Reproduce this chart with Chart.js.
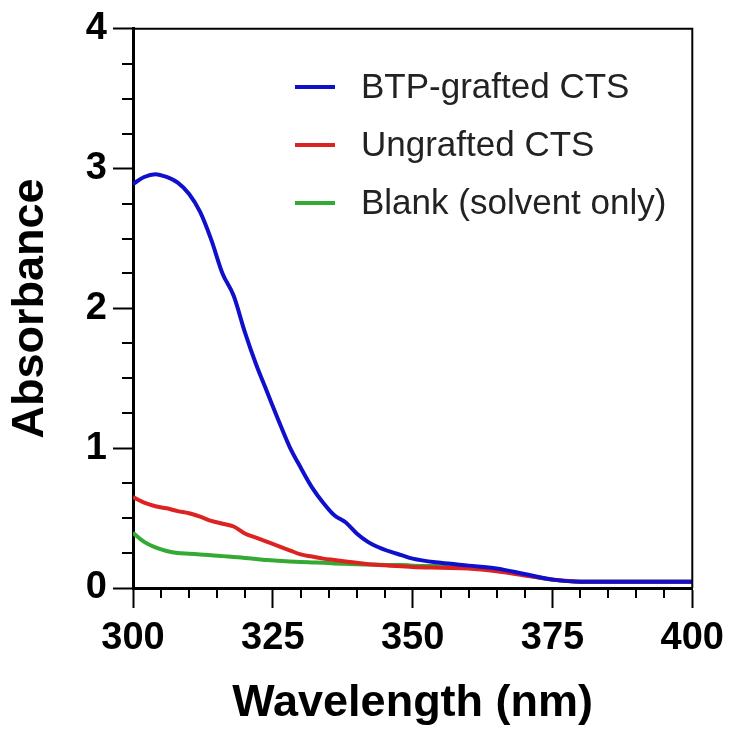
<!DOCTYPE html>
<html>
<head>
<meta charset="utf-8">
<title>Absorbance spectra</title>
<script src="https://cdn.jsdelivr.net/npm/chart.js@4.4.1/dist/chart.umd.min.js"></script>
<style>
  body { margin: 0; background: #fff; }
  canvas { display: block; }
</style>
</head>
<body>
<canvas id="chart" width="732" height="731"></canvas>
<script>
const wavelengths = [300, 302, 304, 306, 308, 310, 312, 314, 316, 318, 320, 322, 324, 326, 328, 330,
  332, 334, 336, 338, 340, 342, 344, 346, 348, 350, 355, 360, 365, 370, 375, 380, 385, 390, 395, 400];

const btpGrafted = [2.89, 2.94, 2.96, 2.94, 2.90, 2.82, 2.69, 2.49, 2.25, 2.09, 1.83, 1.60, 1.40, 1.20, 1.01, 0.86,
  0.72, 0.61, 0.52, 0.47, 0.39, 0.33, 0.29, 0.26, 0.235, 0.21, 0.18, 0.16, 0.14, 0.10, 0.06, 0.045, 0.045, 0.045, 0.045, 0.045];

const ungrafted = [0.65, 0.61, 0.585, 0.57, 0.55, 0.535, 0.51, 0.48, 0.46, 0.44, 0.39, 0.36, 0.33, 0.30, 0.27, 0.24,
  0.225, 0.21, 0.20, 0.19, 0.18, 0.17, 0.165, 0.16, 0.155, 0.15, 0.145, 0.14, 0.12, 0.09, 0.06, 0.045, 0.045, 0.045, 0.045, 0.045];

const blank = [0.395, 0.33, 0.29, 0.265, 0.25, 0.245, 0.24, 0.235, 0.228, 0.222, 0.215, 0.208, 0.20, 0.195, 0.19, 0.186,
  0.183, 0.18, 0.176, 0.173, 0.17, 0.168, 0.166, 0.165, 0.164, 0.16, 0.155, 0.15, 0.13, 0.095, 0.06, 0.045, 0.045, 0.045, 0.045, 0.045];

const seriesLabels = ['BTP-grafted CTS', 'Ungrafted CTS', 'Blank (solvent only)'];
const seriesColors = ['#1010cc', '#dd2222', '#33aa33'];

const FONT = '"Liberation Sans", Arial, sans-serif';

function toPoints(values) {
  return values.map((v, i) => ({ x: wavelengths[i], y: v }));
}

// minor ticks, top/right frame and the in-plot legend
const extras = {
  id: 'extras',
  afterDraw(chart) {
    const ctx = chart.ctx;
    const area = chart.chartArea;
    const xs = chart.scales.x;
    const ys = chart.scales.y;
    ctx.save();
    ctx.strokeStyle = '#000';
    ctx.lineWidth = 2;
    ctx.beginPath();
    for (let w = 305; w < 400; w += 5) {
      if (w % 25 === 0) continue;
      const px = Math.round(xs.getPixelForValue(w));
      ctx.moveTo(px, area.bottom);
      ctx.lineTo(px, area.bottom + 10);
    }
    for (let a = 0.25; a < 4; a += 0.25) {
      if (a % 1 === 0) continue;
      const py = Math.round(ys.getPixelForValue(a));
      ctx.moveTo(area.left - 11, py);
      ctx.lineTo(area.left, py);
    }
    ctx.stroke();

    ctx.beginPath();
    ctx.moveTo(area.left, area.top);
    ctx.lineTo(area.right, area.top);
    ctx.lineTo(area.right, area.bottom);
    ctx.stroke();

    ctx.font = '35px ' + FONT;
    ctx.textBaseline = 'middle';
    ctx.textAlign = 'left';
    chart.data.datasets.forEach((ds, i) => {
      const y = 87 + i * 58;
      ctx.strokeStyle = ds.borderColor;
      ctx.lineWidth = 4;
      ctx.beginPath();
      ctx.moveTo(295, y);
      ctx.lineTo(335, y);
      ctx.stroke();
      ctx.fillStyle = '#222';
      ctx.fillText(ds.label, 361, y + 1);
    });
    ctx.restore();
  }
};

new Chart(document.getElementById('chart'), {
  type: 'line',
  data: {
    datasets: [
      { label: seriesLabels[0], data: toPoints(btpGrafted), borderColor: seriesColors[0] },
      { label: seriesLabels[1], data: toPoints(ungrafted), borderColor: seriesColors[1] },
      { label: seriesLabels[2], data: toPoints(blank), borderColor: seriesColors[2] }
    ]
  },
  options: {
    responsive: false,
    animation: false,
    layout: { padding: { top: 28, right: 39, left: 0, bottom: 0 } },
    elements: {
      point: { radius: 0 },
      line: { borderWidth: 4, cubicInterpolationMode: 'monotone', fill: false }
    },
    plugins: {
      legend: { display: false },
      tooltip: { enabled: false }
    },
    scales: {
      x: {
        type: 'linear',
        min: 300,
        max: 400,
        afterFit(scale) { scale.height = 143; },
        border: { display: true, color: '#000', width: 3 },
        grid: { drawOnChartArea: false, tickLength: 20, tickColor: '#000', tickWidth: 2 },
        ticks: { stepSize: 25, padding: 8, color: '#000', font: { family: FONT, size: 38, weight: 'bold' } },
        title: {
          display: true,
          text: 'Wavelength (nm)',
          color: '#000',
          padding: { top: 0, bottom: 0 },
          font: { family: FONT, size: 45, weight: 'bold', lineHeight: 1.2 }
        }
      },
      y: {
        min: 0,
        max: 4,
        afterFit(scale) { scale.width = 133; },
        border: { display: true, color: '#000', width: 3 },
        grid: { drawOnChartArea: false, tickLength: 20, tickColor: '#000', tickWidth: 2 },
        ticks: { stepSize: 1, padding: 6, color: '#000', font: { family: FONT, size: 38, weight: 'bold' } },
        title: {
          display: true,
          text: 'Absorbance',
          color: '#000',
          padding: { top: 4, bottom: 0 },
          font: { family: FONT, size: 45, weight: 'bold', lineHeight: 1.2 }
        }
      }
    }
  },
  plugins: [extras]
});
</script>
</body>
</html>
